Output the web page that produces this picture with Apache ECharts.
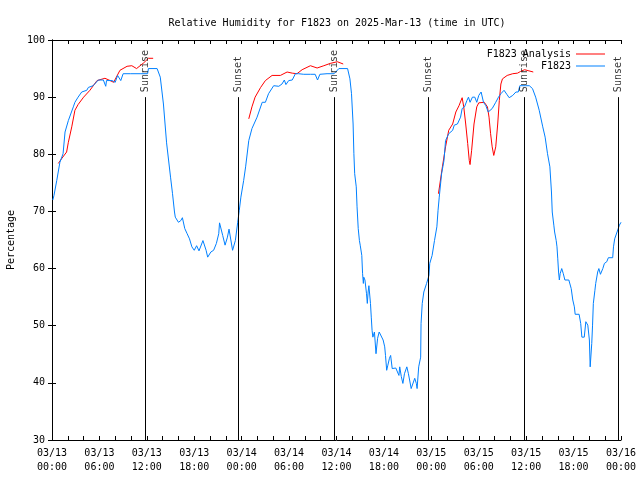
<!DOCTYPE html>
<html>
<head>
<meta charset="utf-8">
<script src="https://cdn.jsdelivr.net/npm/echarts@6/dist/echarts.min.js"></script>
<style>html,body{margin:0;padding:0;background:#fff}#c{width:640px;height:480px}</style>
</head>
<body>
<div id="c"></div>
<script>
// Hours since 2025-03-13 00:00 UTC
const blueHours = [0.1,0.25,0.6,1.0,1.4,1.65,2.07,2.3,2.7,2.9,3.3,3.76,4.4,4.6,5.2,5.87,6.5,6.8,6.9,7.6,8.0,8.3,8.7,9.0,9.9,11.15,12.1,12.2,13.3,13.7,14.1,14.5,15.0,15.25,15.5,15.6,15.8,16.0,16.3,16.5,16.8,17.1,17.4,17.7,18.0,18.3,18.6,18.8,19.1,19.3,19.5,19.7,19.9,20.1,20.45,20.8,21.1,21.2,21.4,21.6,21.9,22.2,22.4,22.6,22.85,23.2,23.5,23.7,23.9,24.25,24.5,24.9,25.3,25.95,26.6,27.0,27.4,28.05,28.7,29.1,29.4,29.6,29.95,30.4,30.8,31.2,31.85,32.7,33.3,33.6,33.9,34.8,35.7,36.3,37.4,37.7,37.9,38.1,38.2,38.3,38.5,38.6,38.75,38.9,39.0,39.2,39.3,39.4,39.45,39.6,39.8,39.9,40.0,40.1,40.3,40.4,40.5,40.6,40.8,41.0,41.2,41.4,41.6,41.9,42.1,42.2,42.35,42.5,42.7,42.85,43.05,43.3,43.5,43.7,43.9,44.0,44.2,44.4,44.6,44.9,45.1,45.25,45.45,45.7,45.9,46.1,46.2,46.4,46.65,46.7,46.85,47.05,47.4,47.7,47.8,48.1,48.4,48.7,48.85,49.0,49.3,49.6,49.8,50.2,50.7,50.9,51.3,51.7,51.9,52.2,52.5,52.7,52.9,53.2,53.5,53.75,54.0,54.3,54.6,54.9,55.2,55.4,55.7,56.15,56.5,56.8,57.2,57.55,57.85,58.3,58.7,59.0,59.2,59.95,60.4,60.8,61.2,61.65,62.1,62.4,62.7,63.0,63.2,63.3,63.5,63.6,63.8,63.9,64.0,64.1,64.2,64.3,64.5,64.7,64.9,65.4,65.7,65.9,66.1,66.2,66.7,66.9,67.05,67.35,67.55,67.8,68.0,68.1,68.3,68.4,68.5,68.7,68.8,69.05,69.2,69.4,69.7,69.9,70.2,70.4,70.95,71.05,71.2,71.5,71.8,72.0];
const blueValues = [72.0,72.8,75.4,78.6,80.1,83.9,85.9,86.2,88.3,89.1,90.0,90.9,91.2,91.7,92.0,93.0,93.0,91.9,92.9,92.9,92.6,93.8,92.9,94.1,94.1,94.1,94.1,95.0,95.0,93.5,88.8,82.0,76.0,73.1,69.9,69.0,68.7,68.1,68.4,68.9,67.0,66.1,65.2,63.8,63.2,64.0,63.1,63.1,64.9,64.9,63.2,62.0,62.0,62.9,63.2,64.4,66.1,68.0,68.0,65.8,64.1,65.5,66.9,66.9,63.2,64.9,68.1,70.2,72.5,75.4,77.8,82.4,84.5,86.5,89.1,89.1,90.6,92.0,91.9,92.3,93.0,92.2,92.9,93.0,94.1,94.1,94.0,94.0,94.0,93.0,94.0,94.1,94.1,95.0,95.0,93.2,90.6,85.3,80.1,76.6,74.3,70.8,67.0,64.9,64.1,62.3,59.1,57.4,58.5,58.0,55.6,53.9,55.9,57.0,53.9,51.5,49.2,48.0,48.9,45.1,47.8,48.9,48.9,47.5,46.3,44.8,42.2,43.1,44.3,44.8,42.5,42.8,42.6,42.8,41.3,42.8,41.1,39.9,41.6,42.8,41.6,40.5,39.0,39.0,40.8,39.9,39.0,42.8,44.5,50.4,53.9,55.9,57.4,58.8,60.9,62.3,64.9,67.3,70.2,72.5,76.6,78.9,82.4,83.6,84.2,85.1,85.3,86.5,88.0,88.3,89.4,90.0,89.1,90.0,90.0,89.1,90.3,90.9,89.1,88.5,87.4,87.2,88.0,89.1,90.0,90.6,91.2,90.5,89.9,90.3,90.9,90.9,92.0,92.0,92.0,91.5,90.0,87.7,84.8,83.0,80.1,77.8,73.4,69.9,67.6,66.4,64.9,63.8,61.7,59.4,58.0,59.1,60.0,59.1,58.0,58.0,56.5,54.5,53.3,52.0,52.0,50.4,48.0,48.0,50.7,50.1,47.5,42.8,46.9,50.1,53.9,56.2,57.4,59.4,60.0,59.0,60.0,60.9,61.2,61.9,61.9,63.8,65.2,66.4,67.6,68.1];

const redHours = [0.8,1.2,1.85,2.07,2.5,2.9,3.3,4.0,4.8,5.7,6.7,7.2,7.8,8.6,9.5,10.1,10.7,11.6,12.2,12.8,
  18.0,
  24.9,25.3,25.7,26.4,27.0,27.85,28.9,29.75,30.4,31.0,31.65,32.7,33.55,34.4,35.2,36.1,36.85,
  42.0,
  48.9,49.4,49.8,50.2,50.7,51.1,51.5,51.9,52.1,52.35,52.6,52.8,52.9,53.1,53.4,53.75,54.0,54.7,55.1,55.3,55.5,55.7,55.9,56.15,56.4,56.6,56.8,57.0,57.6,58.3,58.9,59.3,59.8,60.35,60.9];
const redValues = [78.4,79.2,80.4,82.1,84.8,87.7,88.7,90.0,91.2,92.9,93.3,93.0,92.6,94.7,95.4,95.5,95.0,96.0,96.8,96.8,
  null,
  86.2,88.3,90.0,91.7,92.9,93.8,93.8,94.4,94.2,94.1,94.8,95.5,95.1,95.5,95.9,96.2,95.8,
  null,
  73.1,77.8,81.3,84.2,85.3,87.4,88.5,89.9,88.3,85.3,81.9,78.9,78.2,80.7,85.3,88.3,89.0,89.1,88.3,86.5,83.6,81.3,79.8,81.3,85.3,89.4,92.3,93.2,93.8,94.1,94.2,94.5,94.8,94.6,94.4];

const sunHours = [11.8, 23.6, 35.75, 47.65, 59.75, 71.7];
const sunLabels = ['Sunrise', 'Sunset', 'Sunrise', 'Sunset', 'Sunrise', 'Sunset'];
const sunLineTop = 90;
const yTicks = [30, 40, 50, 60, 70, 80, 90, 100];
const dayLabels = ['03/13', '03/14', '03/15', '03/16'];

const FONT = 'DejaVu Sans Mono';
const pad = n => (n < 10 ? '0' : '') + n;
function xLabel(v) {
  if (Math.abs(v % 6) > 1e-6) return '';
  const d = Math.floor(v / 24 + 1e-9);
  const h = Math.round(v - d * 24);
  return dayLabels[d] + '\n' + pad(h) + ':00';
}

const chart = echarts.init(document.getElementById('c'), null, {renderer: 'canvas'});
const axisLine = {show: true, lineStyle: {color: '#000', width: 1}};
const tick = {show: true, inside: true, length: 4, lineStyle: {color: '#000', width: 1}};
chart.setOption({
  animation: false,
  backgroundColor: '#fff',
  title: {
    text: 'Relative Humidity for F1823 on 2025-Mar-13 (time in UTC)',
    left: 332, top: 13, textAlign: 'center',
    textStyle: {fontFamily: FONT, fontSize: 10, fontWeight: 'normal', color: '#000'}
  },
  legend: {
    data: ['F1823 Analysis', 'F1823'],
    orient: 'vertical', right: 30, top: 43, align: 'right',
    icon: 'rect', itemWidth: 29, itemHeight: 1, itemGap: 0,
    textStyle: {fontFamily: FONT, fontSize: 10, color: '#000', lineHeight: 12}
  },
  grid: {left: 52, right: 19, top: 40, bottom: 40, containLabel: false, outerBoundsMode: 'none'},
  xAxis: [{
    type: 'value', min: 0, max: 72, interval: 2, position: 'bottom',
    axisLine: axisLine, axisTick: tick, splitLine: {show: false},
    axisLabel: {formatter: xLabel, fontFamily: FONT, fontSize: 10, color: '#000', lineHeight: 14, margin: 6,
      showMinLabel: true, showMaxLabel: true, hideOverlap: false}
  }, {
    type: 'value', min: 0, max: 72, interval: 2, position: 'top',
    axisLine: axisLine, axisTick: tick, splitLine: {show: false}, axisLabel: {show: false}
  }],
  yAxis: [{
    type: 'value', min: yTicks[0], max: yTicks[yTicks.length - 1], interval: 10, position: 'left',
    axisLine: axisLine, axisTick: tick, splitLine: {show: false},
    axisLabel: {fontFamily: FONT, fontSize: 10, color: '#000', margin: 7},
    name: 'Percentage', nameLocation: 'middle', nameRotate: 90, nameGap: 35,
    nameTextStyle: {fontFamily: FONT, fontSize: 10, color: '#000'}
  }, {
    type: 'value', min: yTicks[0], max: yTicks[yTicks.length - 1], interval: 10, position: 'right',
    axisLine: axisLine, axisTick: tick, splitLine: {show: false}, axisLabel: {show: false}
  }],
  series: [{
    name: 'F1823 Analysis', type: 'line', showSymbol: false, connectNulls: false,
    data: redHours.map((h, i) => [h, redValues[i] === null ? '-' : redValues[i]]),
    lineStyle: {color: '#ff0000', width: 1}, itemStyle: {color: '#ff0000'}, z: 3
  }, {
    name: 'F1823', type: 'line', showSymbol: false,
    data: blueHours.map((h, i) => [h, blueValues[i]]),
    lineStyle: {color: '#0080ff', width: 1}, itemStyle: {color: '#0080ff'}, z: 4
  }, {
    name: 'sun', type: 'scatter', symbolSize: 0, silent: true, z: 5,
    data: sunHours.map((h, i) => ({value: [h, sunLineTop], name: sunLabels[i]})),
    label: {show: true, position: 'top', distance: 5, rotate: 90, align: 'left', verticalAlign: 'middle',
      formatter: p => p.name, fontFamily: FONT, fontSize: 10, color: '#000'},
    markLine: {
      silent: true, symbol: ['none', 'none'], label: {show: false},
      lineStyle: {color: '#000', width: 1, type: 'solid'},
      data: sunHours.map(h => [{coord: [h, yTicks[0]]}, {coord: [h, sunLineTop]}])
    }
  }]
});
</script>
</body>
</html>
